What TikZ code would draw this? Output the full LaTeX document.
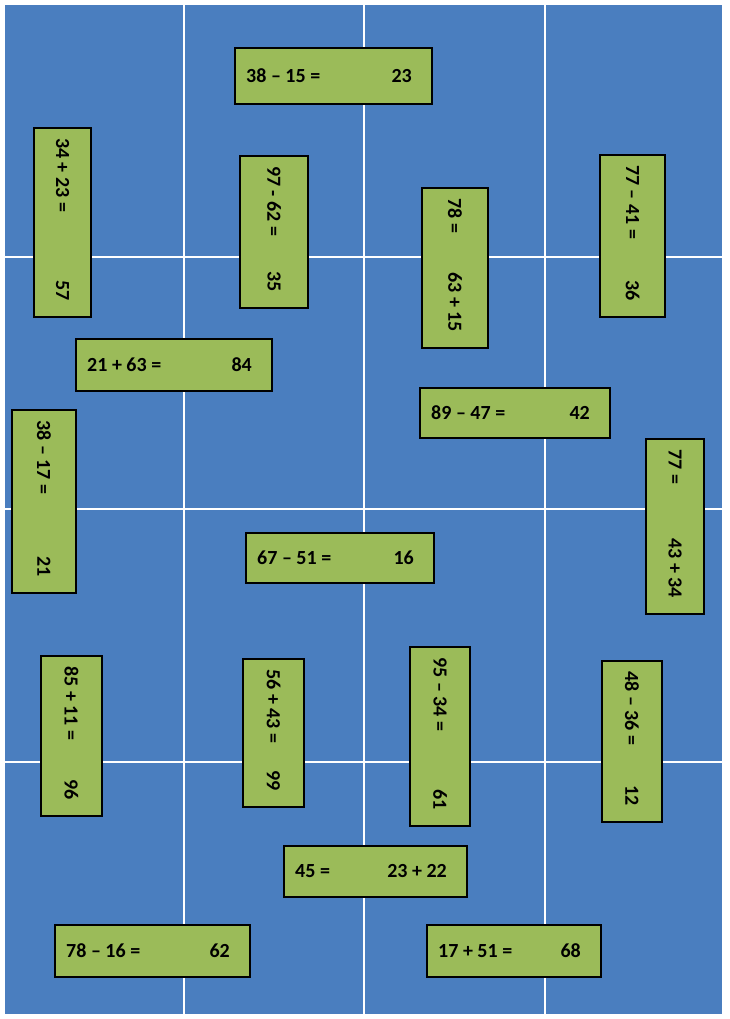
\documentclass[tikz,border=0pt]{standalone}
\usepackage{fontspec}
\setmainfont{Carlito}
\definecolor{bg}{HTML}{4A7EBF}
\definecolor{gr}{HTML}{9BBB59}
\begin{document}
\begin{tikzpicture}[x=1pt,y=-1pt,
  card/.style={fill=gr,draw=black,line width=1.2pt},
  lab/.style={font=\fontsize{20}{22}\selectfont\bfseries,inner sep=0pt}]
\useasboundingbox (0,0) rectangle (729,1019);
\fill[bg] (5,5) rectangle (722,1014);
\foreach \x in {184,364,545} \draw[white,line width=2pt] (\x,5) -- (\x,1014);
\foreach \y in {257,509,762} \draw[white,line width=2pt] (5,\y) -- (722,\y);
% horizontal cards
\foreach \a/\b/\c/\d/\l/\r/\n in {235/48/432/104/{38 – 15 =}/23/h1,76/339/272/391/{21 + 63 =}/84/h2,420/388/610/438/{89 – 47 =}/42/h3,246/533/434/583/{67 – 51 =}/16/h4,284/846/467/897/{45 =}/{23 + 22}/h5,55/925/250/977/{78 – 16 =}/62/h6,427/925/601/977/{17 + 51 =}/68/h7}{
  \node[card,minimum width={\c-\a},minimum height={\d-\b},inner sep=0pt] (\n) at ({(\a+\c)/2},{(\b+\d)/2}) {};
  \node[lab,anchor=west] (\n l) at ({\a+11},{(\b+\d)/2}) {\l};
  \node[lab,anchor=east] (\n r) at ({\c-20},{(\b+\d)/2}) {\r};
}
% vertical cards
\foreach \a/\b/\c/\d/\l/\r/\n in {34/128/91/317/{34 + 23 =}/57/v1,240/156/308/308/{97 - 62 =}/35/v2,422/188/488/348/{78 =}/{63 + 15}/v3,600/155/665/317/{77 – 41 =}/36/v4,12/410/76/593/{38 – 17 =}/21/v5,646/439/704/614/{77 =}/{43 + 34}/v6,41/656/102/816/{85 + 11 =}/96/v7,243/659/304/807/{56 + 43 =}/99/v8,410/647/470/826/{95 – 34 =}/61/v9,602/661/662/822/{48 – 36 =}/12/v10}{
  \node[card,minimum width={\c-\a},minimum height={\d-\b},inner sep=0pt] (\n) at ({(\a+\c)/2},{(\b+\d)/2}) {};
  \node[lab,rotate=-90,anchor=west] (\n l) at ({(\a+\c)/2},{\b+10}) {\l};
  \node[lab,rotate=-90,anchor=east] (\n r) at ({(\a+\c)/2},{\d-16}) {\r};
}
\end{tikzpicture}
\end{document}
